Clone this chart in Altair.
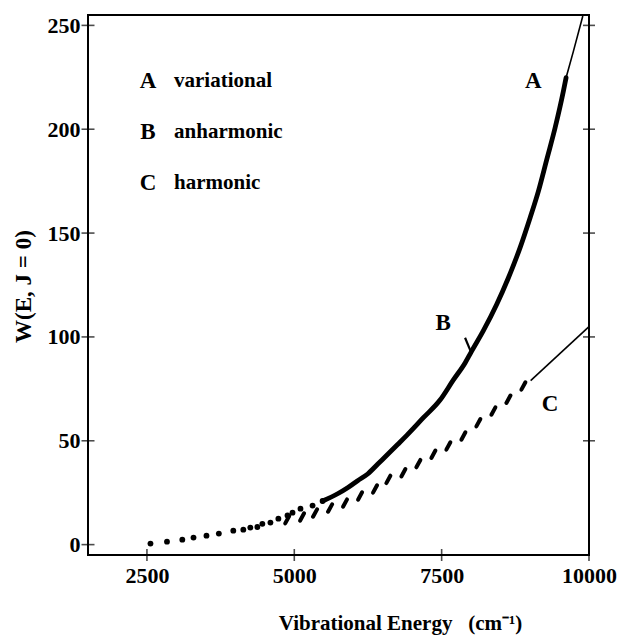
import altair as alt
import pandas as pd

# ---- data ----
# A/B (variational / anharmonic): dotted low-energy part
a_dot_x = [2560, 2840, 3100, 3290, 3510, 3720, 3965, 4135, 4254, 4373, 4458, 4595,
           4730, 4885, 4970, 5105, 5310, 5480]
a_dot_y = [0.5, 1.4, 2.4, 3.4, 4.3, 5.3, 6.7, 7.2, 8.2, 8.5, 10.0, 10.6,
           12.5, 14.0, 15.4, 17.3, 18.8, 21.0]
# dense (merged) part
a_line_x = [5480, 5735, 5905, 6075, 6245, 6417, 6586, 6757, 6908, 7190, 7473, 7699,
            7900, 8000, 8208, 8435, 8633, 8831, 9001, 9142, 9284, 9425, 9566, 9611]
a_line_y = [21.0, 24.5, 27.4, 30.8, 34.0, 38.8, 43.5, 48.3, 52.6, 61.1, 69.6, 79.3,
            87.6, 92.7, 103.0, 115.7, 128.5, 143.0, 157.4, 170.2, 185.5, 200.7, 218.4, 224.8]
# thin continuation of A
a_thin_x = [9611, 9736, 9895]
a_thin_y = [224.8, 237.6, 254.5]
# C (harmonic): dashes
c_x = [4880, 5132, 5352, 5607, 5861, 6116, 6370, 6596, 6851, 7105, 7360, 7614,
       7869, 8123, 8378, 8633, 8887]
c_y = [12.0, 13.3, 15.2, 17.6, 20.0, 23.4, 26.8, 31.4, 34.6, 39.0, 43.5, 47.5,
       52.3, 58.7, 64.3, 70.0, 76.4]
c_thin_x = [9010, 10000]
c_thin_y = [79.0, 105.0]
# pointer near label B
b_ptr_x = [7897, 7999]
b_ptr_y = [99.6, 92.7]

# ticks
y_ticks = [0, 50, 100, 150, 200, 250]
y_ticks_right = [50, 100, 150, 200, 250]
x_ticks = [2500, 5000, 7500, 10000]

# text annotations
legend_letters = ["A", "B", "C"]
legend_words = ["variational", "anharmonic", "harmonic"]
legend_letter_x = [2518, 2518, 2518]
legend_word_x = [2960, 2960, 2960]
legend_y = [223.2, 198.7, 174.1]
curve_labels = ["A", "B", "C"]
curve_label_x = [9057, 7524, 9340]
curve_label_y = [223.2, 106.7, 67.7]

XMIN, XMAX = 1500, 10000
YMIN, YMAX = -5, 255

FONT = "Liberation Serif"

xs = alt.Scale(domain=[XMIN, XMAX], nice=False, zero=False)
ys = alt.Scale(domain=[YMIN, YMAX], nice=False, zero=False)

x_axis = alt.Axis(values=x_ticks, format="d", ticks=False, domain=False, grid=False,
                  labelFont=FONT, labelFontWeight="bold", labelFontSize=22,
                  labelColor="black", labelPadding=10, labelFlush=False,
                  title="Vibrational Energy\u00a0\u00a0\u00a0(cm\u207b\u00b9)", titleFont=FONT,
                  titleFontWeight="bold", titleFontSize=21, titleColor="black",
                  titleX=312, titleY=74, titleAlign="center",
                  titleBaseline="alphabetic")
y_axis = alt.Axis(values=y_ticks, format="d", ticks=False, domain=False, grid=False,
                  labelFont=FONT, labelFontWeight="bold", labelFontSize=22,
                  labelColor="black", labelPadding=8, labelFlush=False,
                  title="W(E, J = 0)", titleFont=FONT, titleFontWeight="bold",
                  titleFontSize=23, titleColor="black", titleAngle=-90,
                  titleX=-65, titleY=271, titleAlign="center",
                  titleBaseline="middle")

def df(x, y):
    return pd.DataFrame({"x": x, "y": y})

base_x = alt.X("x:Q", scale=xs, axis=x_axis)
base_y = alt.Y("y:Q", scale=ys, axis=y_axis)

dots = alt.Chart(df(a_dot_x, a_dot_y)).mark_circle(size=34, color="black", opacity=1).encode(
    x=base_x, y=base_y)
thick = alt.Chart(df(a_line_x, a_line_y)).mark_line(color="black", strokeWidth=4.8,
                                                    strokeCap="round",
                                                    interpolate="monotone").encode(
    x=alt.X("x:Q", scale=xs), y=alt.Y("y:Q", scale=ys))
thin = alt.Chart(df(a_thin_x, a_thin_y)).mark_line(color="black", strokeWidth=1.6,
                                                   interpolate="monotone").encode(
    x=alt.X("x:Q", scale=xs), y=alt.Y("y:Q", scale=ys))
c_dash = alt.Chart(df(c_x, c_y)).mark_point(
    shape="M-0.3,0.55L0.3,-0.55", size=180, filled=False, color="black",
    strokeWidth=4, strokeCap="round", opacity=1).encode(
    x=alt.X("x:Q", scale=xs), y=alt.Y("y:Q", scale=ys))
c_thin = alt.Chart(df(c_thin_x, c_thin_y)).mark_line(color="black", strokeWidth=1.6).encode(
    x=alt.X("x:Q", scale=xs), y=alt.Y("y:Q", scale=ys))
b_ptr = alt.Chart(df(b_ptr_x, b_ptr_y)).mark_line(color="black", strokeWidth=2.2).encode(
    x=alt.X("x:Q", scale=xs), y=alt.Y("y:Q", scale=ys))

left_ticks = alt.Chart(pd.DataFrame({"y": y_ticks})).mark_tick(
    orient="horizontal", size=13, thickness=1.6, color="black").encode(
    x=alt.datum(XMIN, scale=xs), y=alt.Y("y:Q", scale=ys))
right_ticks = alt.Chart(pd.DataFrame({"y": y_ticks_right})).mark_tick(
    orient="horizontal", size=12, thickness=1.6, color="black").encode(
    x=alt.datum(XMAX, scale=xs), y=alt.Y("y:Q", scale=ys))
bottom_ticks = alt.Chart(pd.DataFrame({"x": x_ticks})).mark_tick(
    orient="vertical", size=12, thickness=1.6, color="black").encode(
    x=alt.X("x:Q", scale=xs), y=alt.datum(YMIN, scale=ys))

leg_letters = alt.Chart(pd.DataFrame({"x": legend_letter_x, "y": legend_y,
                                      "t": legend_letters})).mark_text(
    font=FONT, fontWeight="bold", fontSize=23, color="black", align="center",
    baseline="middle").encode(x=alt.X("x:Q", scale=xs), y=alt.Y("y:Q", scale=ys), text="t:N")
leg_words = alt.Chart(pd.DataFrame({"x": legend_word_x, "y": legend_y,
                                    "t": legend_words})).mark_text(
    font=FONT, fontWeight="bold", fontSize=21, color="black", align="left",
    baseline="middle").encode(x=alt.X("x:Q", scale=xs), y=alt.Y("y:Q", scale=ys), text="t:N")
labels = alt.Chart(pd.DataFrame({"x": curve_label_x, "y": curve_label_y,
                                 "t": curve_labels})).mark_text(
    font=FONT, fontWeight="bold", fontSize=23, color="black", align="center",
    baseline="middle").encode(x=alt.X("x:Q", scale=xs), y=alt.Y("y:Q", scale=ys), text="t:N")

chart = alt.layer(dots, thick, thin, c_dash, c_thin, b_ptr,
                  left_ticks, right_ticks, bottom_ticks,
                  leg_letters, leg_words, labels).properties(
    width=501, height=540,
    padding={"left": 88, "top": 15, "right": 30, "bottom": 81},
    autosize=alt.AutoSizeParams(type="none"),
    background="white",
).configure_view(stroke="black", strokeWidth=2)

chart.save("out.html", embed_options={"renderer": "svg", "actions": False})
